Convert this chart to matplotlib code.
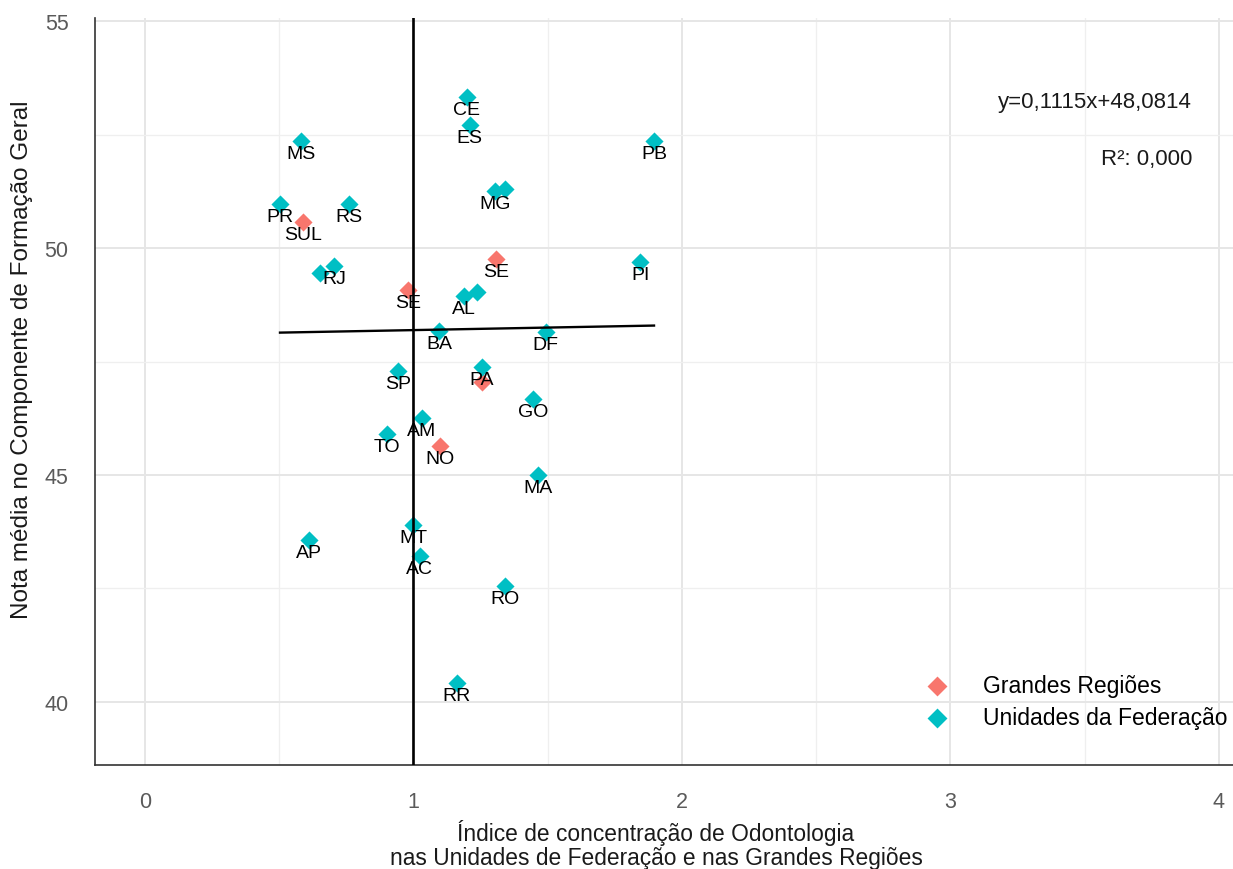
import matplotlib
matplotlib.use('Agg')
import matplotlib.pyplot as plt
from matplotlib.ticker import MultipleLocator

plt.rcParams['font.family'] = ['Liberation Sans', 'DejaVu Sans']

# pontos: indice de concentracao (x) e nota media (y)
rotulos = ['CE', 'ES', 'MS', 'PB', 'PR', 'RS', 'SUL', 'MG', '', 'RJ', '',
           'SE', 'PI', 'SE', 'AL', '', 'BA', 'DF', 'SP', 'PA', '', 'GO',
           'AM', 'TO', 'NO', 'MA', 'MT', 'AP', 'AC', 'RO', 'RR']
grupo = ['UF', 'UF', 'UF', 'UF', 'UF', 'UF', 'GR', 'UF', 'UF', 'UF', 'UF',
         'GR', 'UF', 'GR', 'UF', 'UF', 'UF', 'UF', 'UF', 'UF', 'GR', 'UF',
         'UF', 'UF', 'GR', 'UF', 'UF', 'UF', 'UF', 'UF', 'UF']
ind_x = [1.198, 1.210, 0.580, 1.896, 0.503, 0.761, 0.590, 1.304, 1.341,
         0.704, 0.652, 1.307, 1.844, 0.981, 1.188, 1.235, 1.095, 1.493,
         0.943, 1.254, 1.254, 1.446, 1.031, 0.900, 1.099, 1.464, 0.999,
         0.611, 1.024, 1.341, 1.161]
nota_y = [53.32, 52.71, 52.36, 52.36, 50.97, 50.97, 50.58, 51.26, 51.30,
          49.60, 49.46, 49.76, 49.70, 49.07, 48.95, 49.04, 48.18, 48.16,
          47.29, 47.37, 47.04, 46.67, 46.25, 45.90, 45.65, 45.00, 43.90,
          43.57, 43.22, 42.56, 40.42]

# reta de regressao mostrada no grafico
coef_a = 0.1115
coef_b = 48.0814
eq_texto = 'y=0,1115x+48,0814'
r2_texto = 'R²: 0,000'

cores = {'GR': '#F8766D', 'UF': '#00BFC4'}
nomes = {'GR': 'Grandes Regiões', 'UF': 'Unidades da Federação'}

fig = plt.figure(figsize=(12.33, 8.70), dpi=100)
ax = fig.add_axes([95/1233, 1-766/870, 1179/1233, 747/870])

for g in ['GR', 'UF']:
    xs = [a for a, k in zip(ind_x, grupo) if k == g]
    ys = [b for b, k in zip(nota_y, grupo) if k == g]
    ax.scatter(xs, ys, marker='D', s=85, color=cores[g], label=nomes[g],
               zorder=3, linewidths=0)

for xi, yi, t in zip(ind_x, nota_y, rotulos):
    if t:
        ax.annotate(t, (xi, yi), xytext=(0, -9), textcoords='offset points',
                    ha='center', va='center', fontsize=14, color='black',
                    zorder=4)

x0, x1 = min(ind_x), max(ind_x)
ax.plot([x0, x1], [coef_a*x0 + coef_b, coef_a*x1 + coef_b], color='black',
        lw=1.7, zorder=5)
ax.axvline(1, color='black', lw=1.9, zorder=5)

ax.text(3.90, 53.22, eq_texto, ha='right', va='center', fontsize=16,
        color='#1a1a1a')
ax.text(3.90, 51.98, r2_texto, ha='right', va='center', fontsize=16,
        color='#1a1a1a')

ax.set_xlim(-0.186, 4.205)
ax.set_ylim(38.61, 55.07)
ax.xaxis.set_major_locator(MultipleLocator(1))
ax.xaxis.set_minor_locator(MultipleLocator(0.5))
ax.yaxis.set_major_locator(MultipleLocator(5))
ax.yaxis.set_minor_locator(MultipleLocator(2.5))
ax.grid(which='major', color='#E6E6E6', lw=1.4)
ax.grid(which='minor', color='#EFEFEF', lw=0.9)
ax.set_axisbelow(True)
ax.tick_params(which='both', length=0, labelsize=15.5, labelcolor='#5a5a5a')
ax.tick_params(axis='x', pad=19)
ax.tick_params(axis='y', pad=19)
for s in ['top', 'right']:
    ax.spines[s].set_visible(False)
for s in ['left', 'bottom']:
    ax.spines[s].set_color('#333333')
    ax.spines[s].set_linewidth(1.2)

fig.text(22/1233, 1-360/870, 'Nota média no Componente de Formação Geral',
         rotation=90, ha='center', va='center', fontsize=17.5, color='#1a1a1a')
fig.text(656/1233, 1-845/870,
         'Índice de concentração de Odontologia\nnas Unidades de Federação e nas Grandes Regiões',
         ha='center', va='center', fontsize=16.4, color='#1a1a1a',
         linespacing=1.05)

leg = ax.legend(loc='center left', bbox_to_anchor=(914/1233, 1-702.5/870),
                bbox_transform=fig.transFigure, frameon=False, fontsize=16.5,
                markerscale=1.1, handletextpad=1.0, borderpad=0,
                borderaxespad=0, labelspacing=0.4)

fig.savefig('out.png', dpi=100)
